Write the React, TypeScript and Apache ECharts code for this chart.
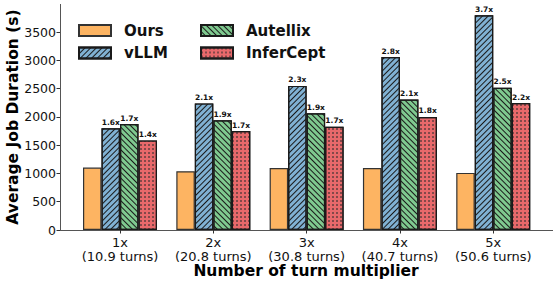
import React, { useEffect, useRef } from "react";
import * as echarts from "echarts";

const categories = ["1x\n(10.9 turns)", "2x\n(20.8 turns)", "3x\n(30.8 turns)", "4x\n(40.7 turns)", "5x\n(50.6 turns)"];
const oursValues = [1105, 1040, 1095, 1095, 1010];
const vllmValues = [1800, 2240, 2550, 3060, 3800];
const autellixValues = [1875, 1940, 2065, 2310, 2515];
const inferceptValues = [1585, 1750, 1825, 2000, 2245];
const vllmLabels = ["1.6x", "2.1x", "2.3x", "2.8x", "3.7x"];
const autellixLabels = ["1.7x", "1.9x", "1.9x", "2.1x", "2.5x"];
const inferceptLabels = ["1.4x", "1.7x", "1.7x", "1.8x", "2.2x"];
const yTicks = [0, 500, 1000, 1500, 2000, 2500, 3000, 3500];
const yMax = 3990;

const FONT = "DejaVu Sans";

export default function App() {
  const ref = useRef<HTMLDivElement>(null);
  useEffect(() => {
    document.body.style.margin = "0";
    const chart = echarts.init(ref.current!, null, { renderer: "svg" });
    const border = { borderColor: "#1a1a1a", borderWidth: 1.2 };
    const barLabel = (labels: string[]) => ({
      show: true,
      position: "top" as const,
      distance: 2,
      formatter: (p: any) => labels[p.dataIndex],
      fontFamily: FONT,
      fontSize: 7.5,
      fontWeight: "bold" as const,
      color: "#111",
    });
    const legendBase = {
      orient: "vertical" as const,
      top: 18,
      itemWidth: 32,
      itemHeight: 11,
      itemGap: 7.5,
      icon: "rect",
      textStyle: {
        fontFamily: FONT,
        fontSize: 15,
        fontWeight: "bold" as const,
        color: "#111",
        lineHeight: 15,
        padding: [0, 0, 0, 8],
      },
    };
    chart.setOption({
      animation: false,
      backgroundColor: "#fff",
      textStyle: { fontFamily: FONT },
      legend: [
        { ...legendBase, left: 73, data: ["Ours", "vLLM"] },
        { ...legendBase, left: 195, data: ["Autellix", "InferCept"] },
      ],
      grid: [
        { left: 60, right: 5.5, top: 4.5, bottom: 55 },
        { left: 73.35, right: 18.1, top: 4.5, bottom: 55 },
      ],
      xAxis: [
        {
          gridIndex: 0, type: "value", min: 0, max: 1, position: "bottom",
          axisLine: { show: true, lineStyle: { color: "#555", width: 1 } },
          axisTick: { show: false }, axisLabel: { show: false }, splitLine: { show: false },
        },
        {
          gridIndex: 0, type: "value", min: 0, max: 1, position: "top",
          axisLine: { show: true, lineStyle: { color: "#555", width: 1 } },
          axisTick: { show: false }, axisLabel: { show: false }, splitLine: { show: false },
        },
        {
          gridIndex: 1, type: "category", data: categories,
          axisLine: { show: false },
          axisTick: { show: true, alignWithLabel: true, interval: 0, length: 3.5, lineStyle: { color: "#333" } },
          axisLabel: { interval: 0, fontFamily: FONT, fontSize: 13, color: "#111", lineHeight: 14, margin: 5 },
        },
      ],
      yAxis: [
        {
          gridIndex: 0, type: "value", min: 0, max: yMax, position: "left",
          axisLine: { show: true, lineStyle: { color: "#555", width: 1 } },
          axisTick: { show: true, length: 3.5, lineStyle: { color: "#333" }, customValues: yTicks },
          axisLabel: {
            fontFamily: FONT, fontSize: 12.5, color: "#111", margin: 4, customValues: yTicks,
            formatter: (v: number) => String(v),
          },
          splitLine: { show: false },
        },
        {
          gridIndex: 0, type: "value", min: 0, max: yMax, position: "right",
          axisLine: { show: true, lineStyle: { color: "#555", width: 1 } },
          axisTick: { show: false }, axisLabel: { show: false }, splitLine: { show: false },
        },
        {
          gridIndex: 1, type: "value", min: 0, max: yMax, show: false,
        },
      ],
      series: [
        {
          name: "Ours", type: "bar", xAxisIndex: 2, yAxisIndex: 2, data: oursValues,
          barWidth: 18.5, barGap: "0%",
          itemStyle: { color: "#fdb462", borderColor: "#333", borderWidth: 1.2 },
        },
        {
          name: "vLLM", type: "bar", xAxisIndex: 2, yAxisIndex: 2, data: vllmValues,
          barWidth: 18.5, barGap: "0%",
          itemStyle: {
            color: "#80b1d3", ...border,
            decal: { symbol: "rect", color: "#1a1a1a", dashArrayX: [1, 0], dashArrayY: [1, 3], rotation: -Math.PI / 4 },
          },
          label: barLabel(vllmLabels),
        },
        {
          name: "Autellix", type: "bar", xAxisIndex: 2, yAxisIndex: 2, data: autellixValues,
          barWidth: 18.5, barGap: "0%",
          itemStyle: {
            color: "#7fc98f", ...border,
            decal: { symbol: "rect", color: "#1a1a1a", dashArrayX: [1, 0], dashArrayY: [1, 3], rotation: Math.PI / 4 },
          },
          label: barLabel(autellixLabels),
        },
        {
          name: "InferCept", type: "bar", xAxisIndex: 2, yAxisIndex: 2, data: inferceptValues,
          barWidth: 18.5, barGap: "0%",
          itemStyle: {
            color: "#e8696b", ...border,
            decal: { symbol: "rect", color: "#2a2a2a", symbolSize: 0.7, dashArrayX: [2, 2], dashArrayY: [2, 2], rotation: 0 },
          },
          label: barLabel(inferceptLabels),
        },
      ],
      graphic: [
        {
          type: "text", x: 13, y: 117, rotation: Math.PI / 2,
          style: {
            text: "Average Job Duration (s)", fontFamily: FONT, fontSize: 15.5, fontWeight: "bold",
            fill: "#000", textAlign: "center", textVerticalAlign: "middle",
          },
        },
        {
          type: "text", x: 306, y: 271,
          style: {
            text: "Number of turn multiplier", fontFamily: FONT, fontSize: 15.5, fontWeight: "bold",
            fill: "#000", textAlign: "center", textVerticalAlign: "middle",
          },
        },
      ],
    });
    return () => chart.dispose();
  }, []);
  return <div ref={ref} style={{ width: 558, height: 285 }} />;
}
